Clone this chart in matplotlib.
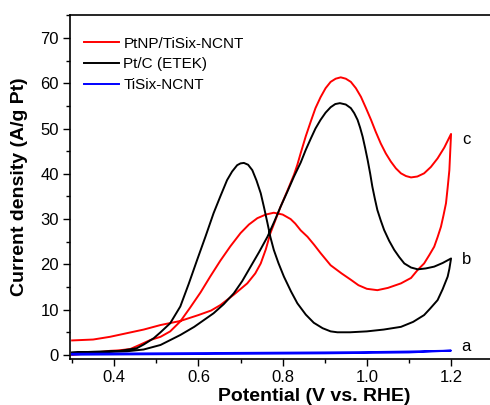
import matplotlib
matplotlib.use("Agg")
import matplotlib.pyplot as plt
from matplotlib.ticker import MultipleLocator

plt.rcParams['font.family'] = ['Liberation Sans', 'DejaVu Sans']

# PtNP/TiSix-NCNT (curve c): forward then reverse scan
red_x = [0.30, 0.35, 0.39, 0.43, 0.47, 0.51, 0.557, 0.60, 0.63, 0.652, 0.684, 0.716, 0.735,
         0.748, 0.76, 0.771, 0.783, 0.795, 0.811, 0.827, 0.835, 0.843, 0.855, 0.867, 0.878,
         0.890, 0.902, 0.914, 0.926, 0.938, 0.950, 0.962, 0.974, 0.986, 0.998, 1.010, 1.021,
         1.033, 1.045, 1.057, 1.069, 1.081, 1.093, 1.105, 1.120, 1.136, 1.152, 1.168, 1.184,
         1.200,
         1.196, 1.192, 1.188, 1.182, 1.176, 1.168, 1.160, 1.148, 1.136, 1.121, 1.105, 1.081,
         1.05, 1.025, 1.00, 0.98, 0.962, 0.94, 0.914, 0.89, 0.875, 0.859, 0.843, 0.83, 0.819,
         0.80, 0.779, 0.76, 0.74, 0.72, 0.70, 0.676, 0.652, 0.628, 0.605, 0.58, 0.557, 0.533,
         0.51, 0.486, 0.46, 0.438, 0.41, 0.39, 0.343, 0.30]
red_y = [3.2, 3.4, 4.0, 4.8, 5.6, 6.6, 7.5, 8.8, 9.8, 11.0, 13.3, 15.8, 18.0,
         20.2, 23.3, 26.9, 29.8, 32.7, 36.2, 39.8, 42.0, 44.6, 48.3, 51.6, 54.5,
         56.9, 58.9, 60.3, 61.0, 61.3, 61.0, 60.3, 58.9, 57.0, 54.5, 51.9, 49.3,
         46.7, 44.5, 42.7, 41.2, 40.1, 39.5, 39.2, 39.4, 40.1, 41.5, 43.4, 45.8,
         48.8,
         40.8, 37.0, 33.5, 30.8, 28.3, 26.0, 23.9, 22.0, 20.2, 18.8, 17.0, 15.8,
         14.8, 14.3, 14.6, 15.4, 16.6, 18.0, 19.8, 22.5, 24.3, 26.1, 27.5, 29.0, 30.0,
         31.0, 31.4, 31.0, 30.2, 28.8, 26.9, 24.0, 20.8, 17.3, 13.8, 10.4, 7.4, 5.2,
         4.0, 3.3, 2.2, 1.3, 1.0, 0.9, 0.4, 0.0]

# Pt/C (ETEK) (curve b)
black_x = [0.30, 0.35, 0.40, 0.43, 0.47, 0.51, 0.557, 0.59, 0.636, 0.66, 0.684, 0.704, 0.724,
           0.744, 0.764, 0.78, 0.795, 0.811, 0.827, 0.843, 0.855, 0.867, 0.878, 0.890, 0.902,
           0.914, 0.925, 0.936, 0.95, 0.962, 0.970, 0.978, 0.984, 0.990, 0.996, 1.002, 1.008,
           1.013, 1.019, 1.025, 1.033, 1.041, 1.053, 1.065, 1.077, 1.089, 1.105, 1.121, 1.14,
           1.16, 1.18, 1.20,
           1.196, 1.192, 1.18, 1.168, 1.15, 1.136, 1.11, 1.081, 1.04, 1.00, 0.96, 0.93, 0.914,
           0.895, 0.874, 0.855, 0.835, 0.82, 0.803, 0.79, 0.779, 0.771, 0.764, 0.756, 0.748,
           0.738, 0.728, 0.718, 0.708, 0.70, 0.692, 0.68, 0.668, 0.652, 0.636, 0.617, 0.597,
           0.577, 0.557, 0.533, 0.51, 0.494, 0.47, 0.454, 0.414, 0.35, 0.30]
black_y = [0.5, 0.6, 0.7, 0.8, 1.2, 2.2, 4.4, 6.2, 9.2, 11.2, 13.6, 16.3, 19.5,
           22.7, 26.1, 29.4, 32.7, 36.0, 39.4, 42.5, 45.3, 47.8, 50.0, 51.9, 53.5,
           54.7, 55.4, 55.6, 55.3, 54.5, 53.4, 51.9, 50.2, 48.2, 45.7, 43.0, 40.0,
           37.2, 34.5, 32.0, 29.7, 27.6, 25.2, 23.2, 21.6, 20.2, 19.3, 18.9, 19.1,
           19.5, 20.3, 21.3,
           19.0, 17.3, 14.5, 12.1, 10.2, 8.8, 7.3, 6.2, 5.6, 5.2, 5.0, 5.0, 5.2,
           5.9, 7.1, 8.9, 11.4, 14.0, 17.3, 20.3, 23.2, 26.0, 29.1, 32.5, 35.7,
           38.5, 40.8, 42.0, 42.4, 42.3, 41.9, 40.5, 38.6, 35.0, 31.3, 26.2, 21.0,
           15.7, 10.7, 7.0, 5.0, 3.7, 2.3, 1.5, 0.9, 0.7, 0.5]

# TiSix-NCNT (curve a)
blue_x = [0.30, 0.50, 0.70, 0.90, 1.00, 1.10, 1.20, 1.10, 0.90, 0.70, 0.50, 0.30]
blue_y = [0.25, 0.35, 0.45, 0.55, 0.62, 0.75, 0.95, 0.55, 0.35, 0.25, 0.15, 0.05]

series_labels = ["PtNP/TiSix-NCNT", "Pt/C (ETEK)", "TiSix-NCNT"]
curve_tags = ["c", "b", "a"]
tag_x = [1.236, 1.236, 1.236]
tag_y = [47.6, 21.1, 1.8]

fig = plt.figure(figsize=(4.9, 4.05), dpi=100)
ax = fig.add_axes([70/490, 46/405, 1 - 70/490 + 0.003, (359 - 15.3)/405])

ax.plot(red_x, red_y, color='#ff0000', lw=1.4, label=series_labels[0])
ax.plot(black_x, black_y, color='black', lw=1.4, label=series_labels[1])
ax.plot(blue_x, blue_y, color='#0000ff', lw=1.4, label=series_labels[2])

for t, tx, ty in zip(curve_tags, tag_x, tag_y):
    ax.text(tx, ty, t, fontsize=12, ha='center', va='center')

ax.set_xlim(0.295, 1.296)
ax.set_ylim(-0.9, 75)
ax.xaxis.set_minor_locator(MultipleLocator(0.1))
ax.yaxis.set_major_locator(MultipleLocator(10))
ax.yaxis.set_minor_locator(MultipleLocator(5))
ax.set_xticks([0.4, 0.6, 0.8, 1.0, 1.2])
ax.set_xticklabels(["0.4", "0.6", "0.8", "1.0", "1.2"])
ax.tick_params(which='major', direction='out', length=5, width=1, labelsize=12, pad=3)
ax.tick_params(which='minor', direction='out', length=3, width=1)
ax.spines['right'].set_visible(False)
for s in ['left', 'bottom', 'top']:
    ax.spines[s].set_linewidth(1.2)

ax.set_xlabel("Potential (V vs. RHE)", fontsize=14, fontweight='bold')
ax.xaxis.set_label_coords((313 - 70) / 420, -0.085)
ax.set_ylabel("Current density (A/g Pt)", fontsize=14, fontweight='bold')
ax.yaxis.set_label_coords(-0.10, 0.5)

leg = ax.legend(loc='upper left', bbox_to_anchor=(0.0, 0.978), frameon=False, fontsize=11,
                handlelength=2.3, handletextpad=0.3, labelspacing=0.45, borderaxespad=0.5)

fig.savefig("out.png", dpi=100)
